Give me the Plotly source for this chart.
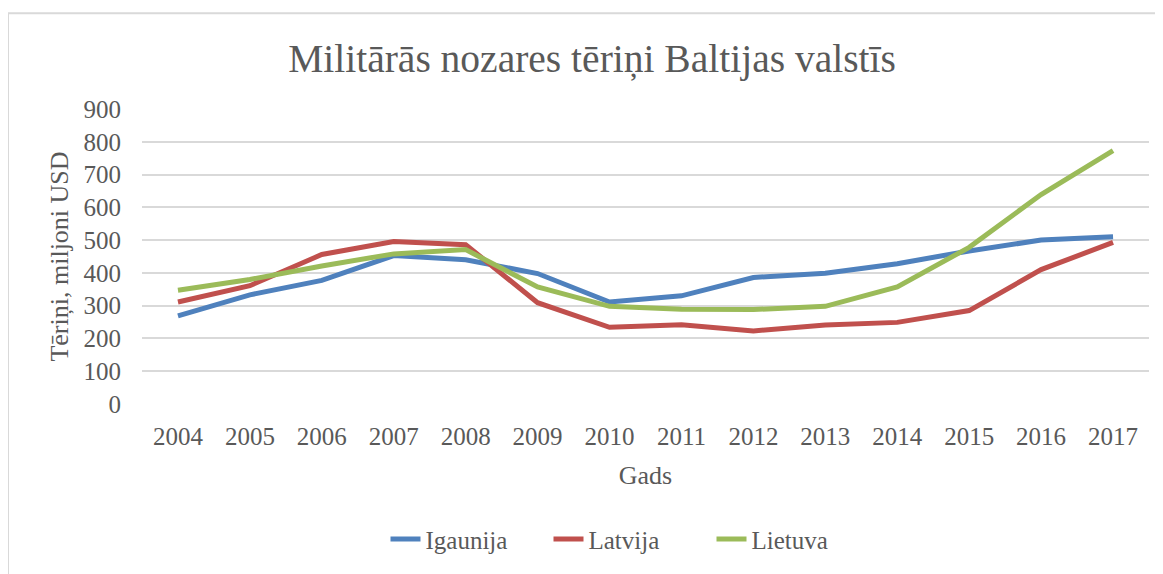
import plotly.graph_objects as go

years = ["2004", "2005", "2006", "2007", "2008", "2009", "2010", "2011", "2012", "2013", "2014", "2015", "2016", "2017"]
igaunija = [269, 333, 377, 453, 440, 398, 311, 330, 386, 399, 428, 467, 500, 510]
latvija = [311, 361, 456, 496, 486, 309, 234, 242, 223, 241, 249, 285, 410, 493]
lietuva = [347, 380, 421, 458, 471, 357, 298, 289, 288, 298, 357, 478, 639, 773]
y_ticks = [0, 100, 200, 300, 400, 500, 600, 700, 800, 900]

series = [("Igaunija", igaunija, "#4f81bd"), ("Latvija", latvija, "#c0504d"), ("Lietuva", lietuva, "#9bbb59")]

FONT = "Liberation Serif"
TXT = "#595959"

fig = go.Figure()
for name, vals, col in series:
    fig.add_trace(go.Scatter(x=years, y=vals, name=name, mode="lines",
                             line=dict(color=col, width=5, shape="linear")))

OFF = 8  # page body margin
W, H = 1163 - OFF, 574 - OFF
L, T = 142 - OFF, 109 - OFF
PR, PB = 1149 - OFF, 408 - OFF
R, B = W - PR, H - PB
pw, ph = PR - L, PB - T

def px_x(x):
    return (x - OFF - L) / pw

def px_y(y):
    return (PB - (y - OFF)) / ph

fig.update_layout(
    width=W, height=H,
    margin=dict(l=L, r=R, t=T, b=B),
    paper_bgcolor="white", plot_bgcolor="white",
    font=dict(family=FONT, color=TXT),
    title=dict(text="Militārās nozares tēriņi Baltijas valstīs", x=(592 - OFF) / W, xanchor="center",
               y=1 - (58 - OFF) / H, yanchor="middle", font=dict(size=39.5, color=TXT, family=FONT)),
    xaxis=dict(type="category", range=[-0.5, 13.5], showgrid=False, showline=False, zeroline=False,
               ticks="", tickfont=dict(size=25, color=TXT), ticklabelstandoff=15,
               title=dict(text="Gads", font=dict(size=26, color=TXT), standoff=16)),
    yaxis=dict(range=[0, 900], tickvals=y_ticks, showgrid=True, gridcolor="#d9d9d9", gridwidth=2,
               zeroline=False, showline=False, ticks="", tickfont=dict(size=25, color=TXT),
               ticklabelstandoff=20,
               title=dict(text="Tēriņi, miljoni USD", font=dict(size=26, color=TXT), standoff=7)),
    legend=dict(orientation="h", x=px_x(630), xanchor="center", y=px_y(545), yanchor="middle",
                font=dict(size=25, color=TXT), tracegroupgap=0, entrywidth=118, entrywidthmode="pixels",
                bgcolor="rgba(0,0,0,0)"),
    showlegend=True,
    shapes=[dict(type="rect", xref="paper", yref="paper",
                 x0=px_x(OFF), x1=px_x(1175), y0=px_y(590), y1=px_y(12),
                 line=dict(color="#d9d9d9", width=2), fillcolor="rgba(0,0,0,0)", layer="below")],
)

fig.write_html("out.html")
